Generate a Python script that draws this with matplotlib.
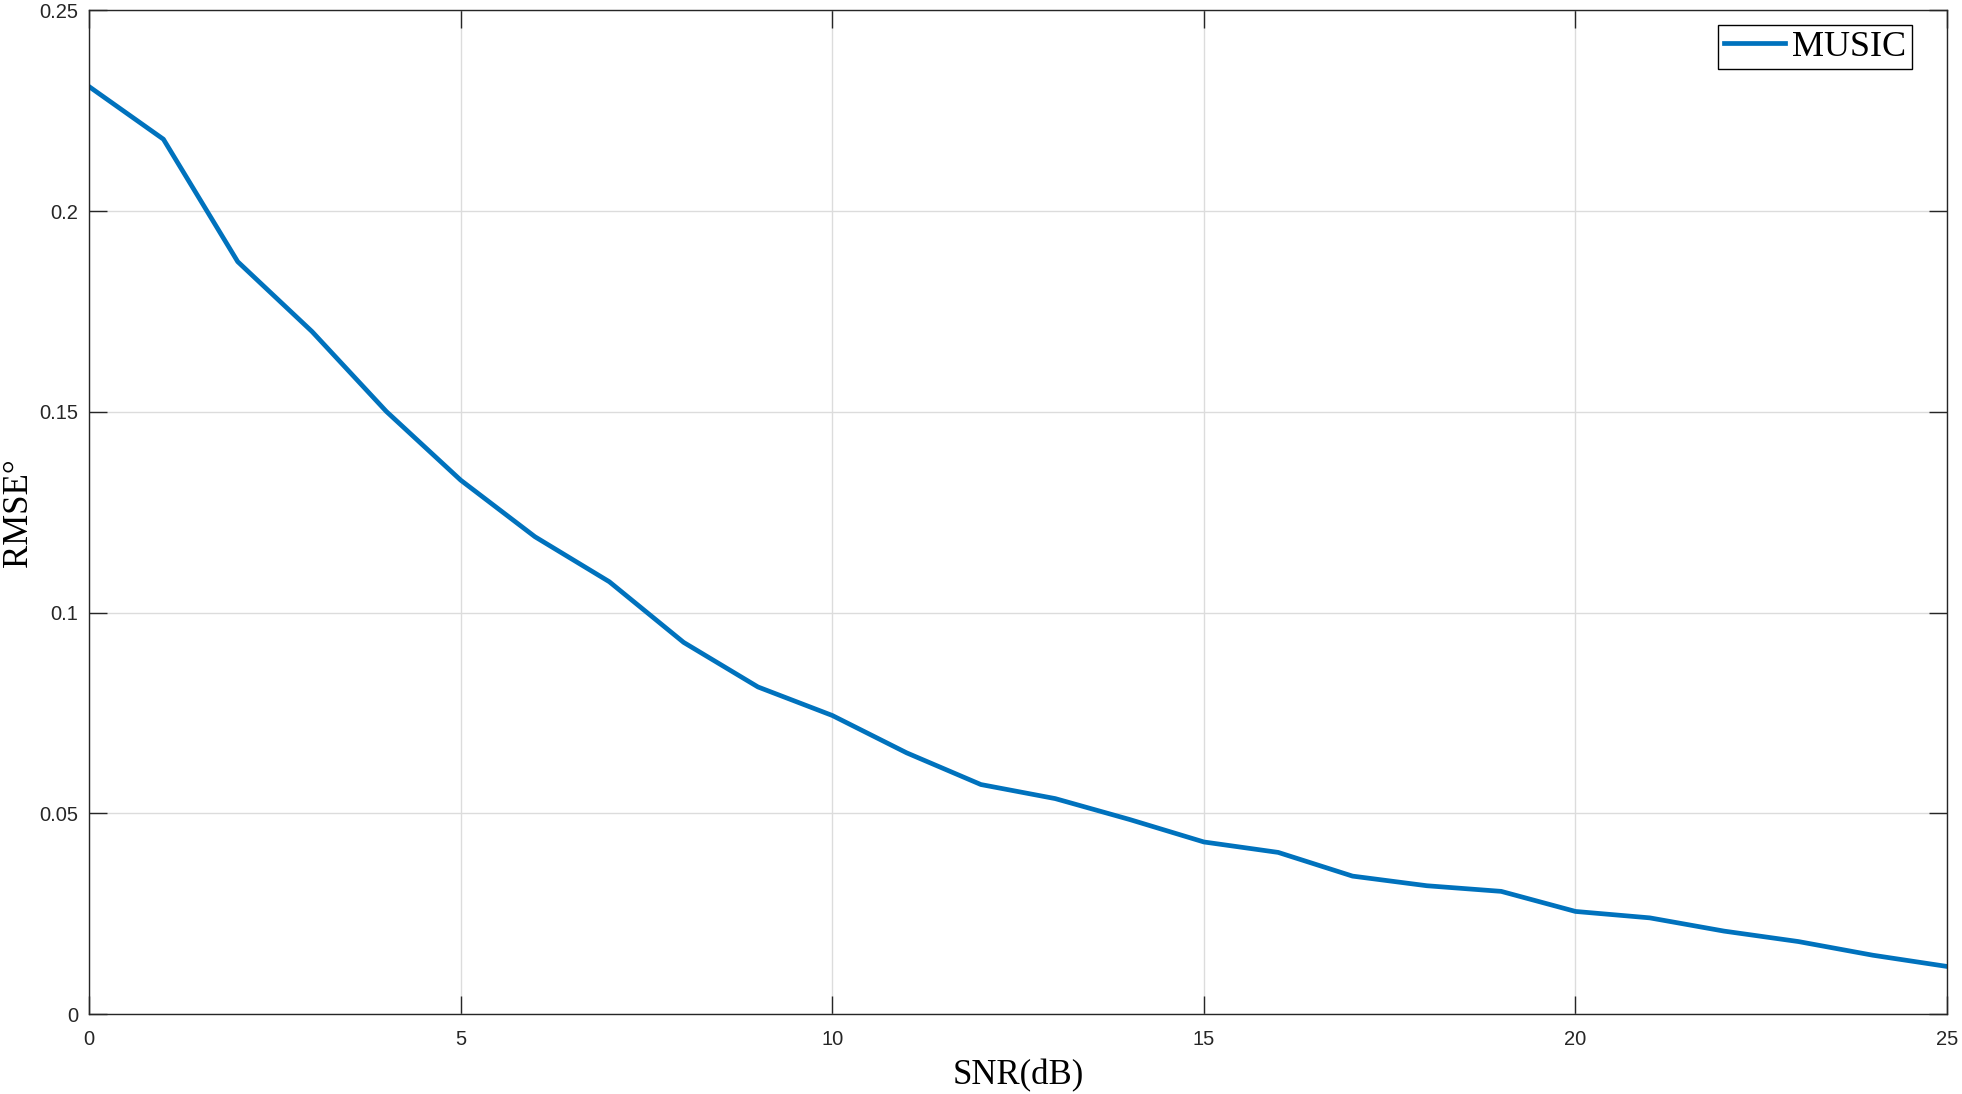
import numpy as np
import matplotlib
matplotlib.use("Agg")
import matplotlib.pyplot as plt

# SNR values (dB) and RMSE of the MUSIC estimator
snr_db = np.arange(0, 26)
rmse_music = [0.2310, 0.2179, 0.1874, 0.1700, 0.1501, 0.1330, 0.1189, 0.1077,
              0.0926, 0.0815, 0.0744, 0.0651, 0.0572, 0.0537, 0.0485, 0.0429,
              0.0403, 0.0344, 0.0320, 0.0306, 0.0256, 0.0240, 0.0207, 0.0181,
              0.0147, 0.0119]

x_ticks = [0, 5, 10, 15, 20, 25]
y_ticks = [0, 0.05, 0.1, 0.15, 0.2, 0.25]
y_tick_labels = ["0", "0.05", "0.1", "0.15", "0.2", "0.25"]

edge = "#262626"

fig = plt.figure(figsize=(19.62, 10.94), dpi=100)
ax = fig.add_axes([0.0454, 0.0729, 0.947, 0.9177])

ax.plot(snr_db, rmse_music, color="#0072BD", linewidth=3.4, label="MUSIC")

ax.set_xlim(0, 25)
ax.set_ylim(0, 0.25)
ax.set_xticks(x_ticks)
ax.set_yticks(y_ticks)
ax.set_yticklabels(y_tick_labels)

# MATLAB style box with mirrored inward ticks
ax.tick_params(direction="in", length=13, width=1.0, color=edge,
               top=True, right=True, labelsize=14.5, labelcolor=edge)
ax.tick_params(axis="x", pad=11)
ax.tick_params(axis="y", pad=8)
for lab in ax.get_xticklabels() + ax.get_yticklabels():
    lab.set_fontfamily("Liberation Sans")
for sp in ax.spines.values():
    sp.set_color(edge)
    sp.set_linewidth(1.0)

ax.grid(True, color="#dcdcdc", linewidth=1.0)
ax.set_axisbelow(True)

ax.set_xlabel("SNR(dB)", fontsize=25, family="Liberation Serif", color="black")
ax.set_ylabel("RMSE°", fontsize=25, family="Liberation Serif", color="black")
ax.xaxis.set_label_coords(0.5, -0.045)
ax.yaxis.set_label_coords(-0.0292, 0.5)

leg = ax.legend(loc="upper right", bbox_to_anchor=(0.981, 0.9853),
                borderaxespad=0, fancybox=False, framealpha=1,
                edgecolor="black", handlelength=1.7, handletextpad=0.2,
                borderpad=0.15, prop={"family": "Liberation Serif", "size": 26})
leg.get_frame().set_linewidth(1.0)

fig.savefig("out.png", dpi=100)
